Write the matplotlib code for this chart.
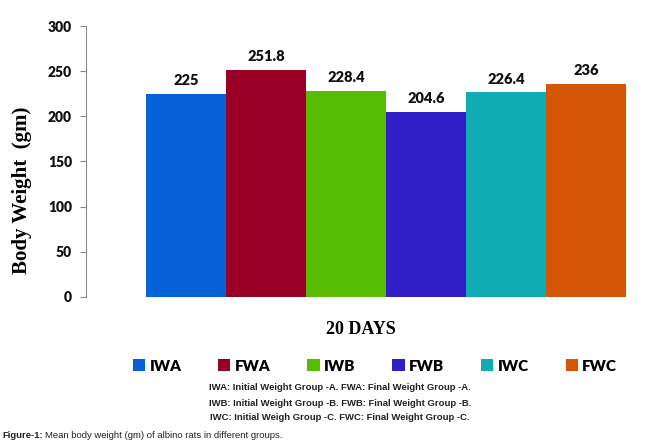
import matplotlib
matplotlib.use("Agg")
import matplotlib.pyplot as plt
from matplotlib.patches import Patch

categories = ["IWA", "FWA", "IWB", "FWB", "IWC", "FWC"]
values = [225, 251.8, 228.4, 204.6, 226.4, 236]
value_labels = ["225", "251.8", "228.4", "204.6", "226.4", "236"]
colors = ["#0461D8", "#990026", "#58BC00", "#301EC6", "#12ACB5", "#D65607"]
yticks = [0, 50, 100, 150, 200, 250, 300]
footnotes = [
    "IWA: Initial Weight Group -A. FWA: Final Weight Group -A.",
    "IWB: Initial Weight Group -B. FWB: Final Weight Group -B.",
    "IWC: Initial Weigh Group -C. FWC: Final Weight Group -C.",
]

W, H = 650, 447
fig = plt.figure(figsize=(6.5, 4.47), dpi=100)
ax = fig.add_axes([86 / W, 1 - 297 / H, 1 - 86 / W, (297 - 26) / H])

x = list(range(len(categories)))
bars = ax.bar(x, values, width=1.0, color=colors, linewidth=0)
ax.set_xlim(-1.25, 5.8)
ax.set_ylim(0, 300)
ax.set_yticks(yticks)
ax.set_xticks([])

for s in ["top", "right", "bottom"]:
    ax.spines[s].set_visible(False)
ax.spines["left"].set_color("#888888")
ax.spines["left"].set_linewidth(0.8)
ax.tick_params(axis="y", direction="out", length=4, color="#888888", pad=6)
for lab in ax.get_yticklabels():
    lab.set_fontfamily("Lato")
    lab.set_fontweight("heavy")
    lab.set_fontsize(10)
    lab.set_color("#111111")

for xi, v, t in zip(x, values, value_labels):
    ax.annotate(t, (xi, v), xytext=(0, 5), textcoords="offset points",
                ha="center", va="bottom", fontfamily="Lato", fontweight="heavy",
                fontsize=10.5, color="#111111")

fig.text(22 / W, 1 - 190 / H, "Body Weight  (gm)", rotation=90, ha="center",
         va="center", fontfamily="Liberation Serif", fontweight="bold", fontsize=15)
fig.text(361 / W, 1 - 330 / H, "20 DAYS", ha="center", va="center",
         fontfamily="Liberation Serif", fontweight="bold", fontsize=13)

handles = [Patch(facecolor=c, edgecolor="none") for c in colors]
leg = fig.legend(handles, categories, ncol=6, loc="center",
                 bbox_to_anchor=(375 / W, 1 - 366 / H), frameon=False,
                 handlelength=0.8, handleheight=0.8, handletextpad=0.3,
                 columnspacing=2.4,
                 prop={"family": "Lato", "weight": "heavy", "size": 11})

for i, line in enumerate(footnotes):
    fig.text(340 / W, 1 - (388 + 15 * i) / H, line, ha="center", va="center",
             fontfamily="Liberation Sans", fontweight="bold", fontsize=6.8,
             color="#222222")

cap_bold = fig.text(2 / W, 1 - 436 / H, "Figure-1:", ha="left", va="center",
                    fontfamily="Liberation Sans", fontweight="bold", fontsize=6.8,
                    color="#222222")
fig.canvas.draw()
bb = cap_bold.get_window_extent()
fig.text((bb.x1 + 2) / W, 1 - 436 / H,
         "Mean body weight (gm) of albino rats in different groups.",
         ha="left", va="center", fontfamily="Liberation Sans",
         fontsize=6.8, color="#222222")

fig.savefig("out.png", dpi=100)
